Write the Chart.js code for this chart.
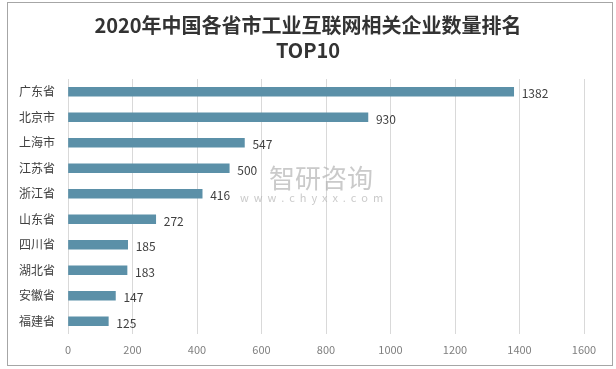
<!DOCTYPE html>
<html>
<head>
<meta charset="utf-8">
<script src="https://cdn.jsdelivr.net/npm/chart.js@4"></script>
<style>
  html, body { margin: 0; padding: 0; background: #fff; }
  #wrap { position: relative; width: 616px; height: 369px; }
  #frame { position: absolute; left: 7px; top: 2px; width: 604px; height: 362px; border: 1px solid #a6a6a6; pointer-events: none; }
  canvas { position: absolute; left: 0; top: 0; }
</style>
</head>
<body>
<div id="wrap">
  <canvas id="chart" width="616" height="369"></canvas>
  <div id="frame"></div>
</div>
<script>
// data
const provinces = ['广东省', '北京市', '上海市', '江苏省', '浙江省', '山东省', '四川省', '湖北省', '安徽省', '福建省'];
const companyCounts = [1382, 930, 547, 500, 416, 272, 185, 183, 147, 125];
const titleLines = ['2020年中国各省市工业互联网相关企业数量排名', 'TOP10'];

const FONT = '"Noto Sans CJK SC", "Noto Sans", sans-serif';

// title centred on the whole picture, not on the plot
const pageTitle = {
  id: 'pageTitle',
  afterDraw(chart) {
    const ctx = chart.ctx;
    ctx.save();
    ctx.fillStyle = '#333333';
    ctx.font = 'bold 20px ' + FONT;
    ctx.textAlign = 'center';
    ctx.textBaseline = 'middle';
    ctx.fillText(titleLines[0], 308, 25);
    ctx.fillText(titleLines[1], 308, 50);
    ctx.restore();
  }
};

// value labels at the end of each bar
const valueLabels = {
  id: 'valueLabels',
  afterDatasetsDraw(chart) {
    const ctx = chart.ctx;
    const meta = chart.getDatasetMeta(0);
    ctx.save();
    ctx.font = '12px ' + FONT;
    ctx.fillStyle = '#404040';
    ctx.textAlign = 'left';
    ctx.textBaseline = 'middle';
    meta.data.forEach((bar, i) => {
      ctx.fillText(String(companyCounts[i]), bar.x + 8, bar.y + 2);
    });
    ctx.restore();
  }
};

// faint watermark
const watermark = {
  id: 'watermark',
  afterDraw(chart) {
    const ctx = chart.ctx;
    ctx.save();
    ctx.fillStyle = 'rgba(180,180,180,0.7)';
    ctx.textBaseline = 'middle';
    ctx.textAlign = 'left';
    ctx.font = '26px ' + FONT;
    ctx.fillText('智研咨询', 269, 178);
    ctx.font = '11px ' + FONT;
    ctx.fillText('w  w  w  .  c  h  y  x  x  .  c  o  m', 240, 198);
    ctx.restore();
  }
};

new Chart(document.getElementById('chart').getContext('2d'), {
  type: 'bar',
  data: {
    labels: provinces,
    datasets: [{
      data: companyCounts,
      backgroundColor: '#5b90a8',
      barThickness: 9
    }]
  },
  options: {
    indexAxis: 'y',
    responsive: false,
    animation: false,
    layout: { padding: { top: 79, right: 32, bottom: 0, left: 0 } },
    plugins: {
      legend: { display: false },
      tooltip: { enabled: false },
      title: { display: false }
    },
    scales: {
      x: {
        min: 0,
        max: 1600,
        ticks: {
          stepSize: 200,
          color: '#7f7f7f',
          font: { family: FONT, size: 11 },
          padding: 9,
          callback: v => String(v)
        },
        grid: { color: '#d9d9d9', drawTicks: false },
        border: { display: false },
        afterFit(scale) { scale.height = 35; }
      },
      y: {
        ticks: {
          color: '#404040',
          font: { family: FONT, size: 12 },
          padding: 13
        },
        grid: { display: false, drawTicks: false },
        border: { display: false },
        afterFit(scale) { scale.width = 68; }
      }
    }
  },
  plugins: [valueLabels, watermark, pageTitle]
});
</script>
</body>
</html>
